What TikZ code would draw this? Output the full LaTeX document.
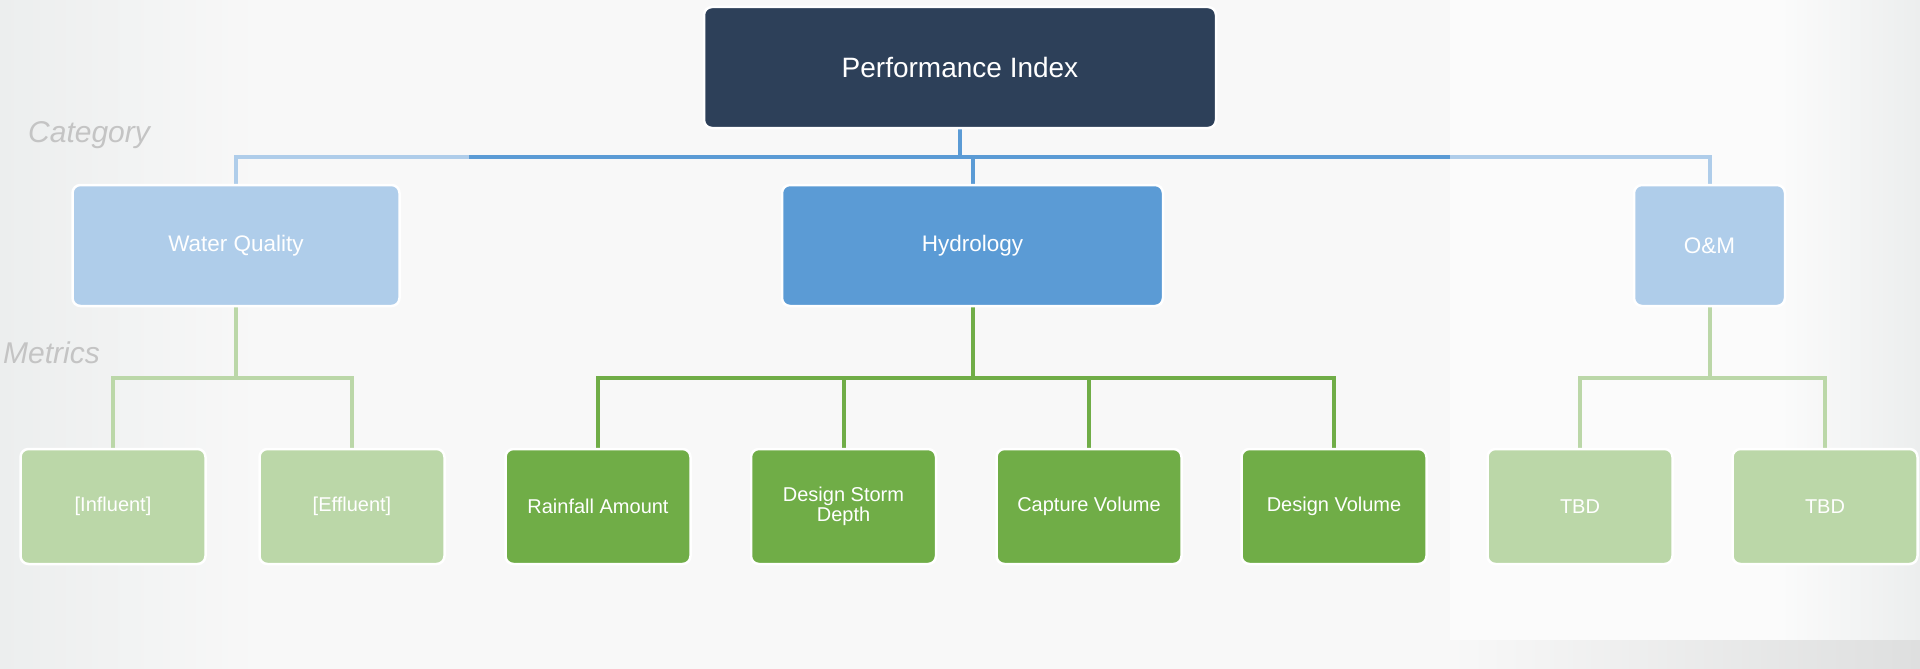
\documentclass[tikz,border=0pt]{standalone}
\usepackage{fontspec}
\setmainfont{Liberation Sans}
\usepackage{tikz}
\usetikzlibrary{backgrounds}

\definecolor{navy}{HTML}{2D4059}
\definecolor{hydblue}{HTML}{5B9BD5}
\definecolor{paleblue}{HTML}{AFCDEA}
\definecolor{hydgreen}{HTML}{70AD47}
\definecolor{palegreen}{HTML}{BBD7A8}
\definecolor{labelgray}{HTML}{C4C4C4}
\definecolor{edgegray}{HTML}{ECEEEE}
\definecolor{panel}{HTML}{F8F8F8}
\definecolor{panelright}{HTML}{FBFBFB}
\definecolor{cornergray}{HTML}{DEDFDF}

\tikzset{
  box/.style={rectangle, rounded corners=8pt, draw=white, line width=2.5pt,
    text=white, align=center, inner sep=0pt},
  topbox/.style={box, fill=navy, minimum width=512pt, minimum height=121pt,
    font=\fontsize{28}{30}\selectfont},
  catbox/.style={box, minimum height=121pt, font=\fontsize{22.5}{24}\selectfont},
  metbox/.style={box, minimum width=185pt, minimum height=115pt,
    font=\fontsize{20}{20}\selectfont},
  dgbox/.style={metbox, fill=hydgreen},
  lgbox/.style={metbox, fill=palegreen},
  link/.style={line width=4pt},
  levellabel/.style={anchor=base west, text=labelgray, inner sep=0pt,
    font=\fontsize{30}{32}\selectfont\itshape}
}

\begin{document}
\begin{tikzpicture}[x=1pt,y=-1pt]
  \useasboundingbox (0,0) rectangle (1920,669);

  % category level
  \node[topbox] (pi) at (960,67.5) {Performance Index};
  \node[catbox, fill=paleblue, minimum width=327pt] (wq) at (236,245.5) {Water Quality};
  \node[catbox, fill=hydblue, minimum width=381pt] (hyd) at (972.5,245.5) {Hydrology};
  \node[catbox, fill=paleblue, minimum width=151pt] (om) at (1709.5,245.5) {O\&M};

  % metrics level
  \foreach \nm/\x/\sty/\txt in {inf/113/lgbox/{[Influent]}, eff/352/lgbox/{[Effluent]},
      rain/598/dgbox/{Rainfall Amount}, dsd/843.5/dgbox/{Design Storm\\Depth},
      cap/1089/dgbox/{Capture Volume}, dvol/1334/dgbox/{Design Volume},
      tbda/1580/lgbox/{TBD}, tbdb/1825/lgbox/{TBD}}
    \node[\sty] (\nm) at (\x,506.5) {\txt};

  \node[levellabel] (catlabel) at (28,142) {Category};
  \node[levellabel] (metlabel) at (3,363) {Metrics};

  \coordinate (catbar) at (0,157);
  \coordinate (metbar) at (0,378);
  \coordinate (hiL) at (469,157);
  \coordinate (hiR) at (1450,157);

  \begin{scope}[on background layer]
    % backdrop
    \fill[panel] (0,0) rectangle (1920,669);
    \shade[left color=edgegray, right color=panel] (0,0) rectangle (260,669);
    \fill[panelright] (1450,0) rectangle (1920,640);
    \shade[left color=panelright, right color=edgegray] (1780,0) rectangle (1920,640);
    \shade[left color=panel, right color=cornergray] (1450,640) rectangle (1920,669);

    % connectors
    \draw[link, paleblue] (wq.north) -- (wq.north |- catbar) -- (om.north |- catbar) -- (om.north);
    \draw[link, hydblue] (hiL) -- (hiR);
    \draw[link, hydblue] (pi.south) -- (pi.south |- catbar);
    \draw[link, hydblue] (hyd.north) -- (hyd.north |- catbar);

    \draw[link, palegreen] (wq.south) -- (wq.south |- metbar);
    \draw[link, palegreen] (inf.north) -- (inf.north |- metbar) -- (eff.north |- metbar) -- (eff.north);
    \draw[link, hydgreen] (hyd.south) -- (hyd.south |- metbar);
    \draw[link, hydgreen] (rain.north) -- (rain.north |- metbar) -- (dvol.north |- metbar) -- (dvol.north);
    \foreach \nm in {dsd,cap} \draw[link, hydgreen] (\nm.north) -- (\nm.north |- metbar);
    \draw[link, palegreen] (om.south) -- (om.south |- metbar);
    \draw[link, palegreen] (tbda.north) -- (tbda.north |- metbar) -- (tbdb.north |- metbar) -- (tbdb.north);
  \end{scope}
\end{tikzpicture}
\end{document}
